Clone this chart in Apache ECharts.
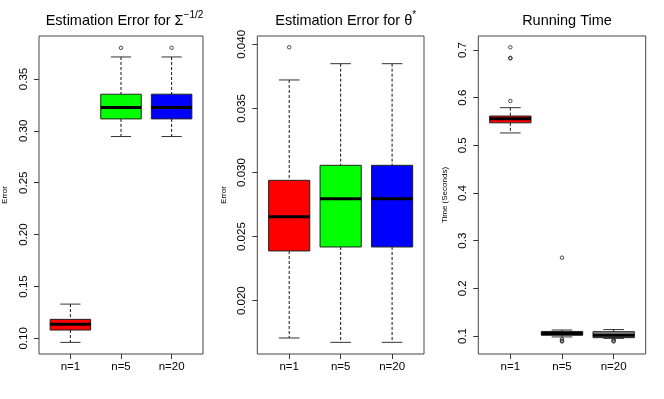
<!DOCTYPE html>
<html><head><meta charset="utf-8">
<script src="https://cdn.jsdelivr.net/npm/echarts@6/dist/echarts.min.js"></script>
<style>html,body{margin:0;padding:0;background:#fff}#c{width:664px;height:399px}</style>
</head><body><div id="c"></div>
<script>
// ---- data ----
const categories = ['n=1', 'n=5', 'n=20'];
// [lower whisker, Q1, median, Q3, upper whisker]
const sigmaStats = [
  [0.0961, 0.1080, 0.1135, 0.1183, 0.1330],
  [0.2945, 0.3115, 0.3224, 0.3353, 0.3712],
  [0.2945, 0.3115, 0.3224, 0.3353, 0.3712]
];
const sigmaOutliers = [[], [0.380], [0.380]];
const thetaStats = [
  [0.01709, 0.02388, 0.02655, 0.02939, 0.03722],
  [0.01675, 0.02419, 0.02796, 0.03056, 0.03849],
  [0.01675, 0.02419, 0.02796, 0.03056, 0.03849]
];
const thetaOutliers = [[0.03977], [], []];
const timeStats = [
  [0.526, 0.5472, 0.556, 0.5615, 0.579],
  [0.098, 0.1015, 0.105, 0.1095, 0.1125],
  [0.095, 0.0965, 0.1015, 0.109, 0.1135]
];
const timeOutliers = [
  [0.7057, 0.6835, 0.6825, 0.593],
  [0.2643, 0.093, 0.090, 0.0885],
  [0.093, 0.090, 0.0885]
];
const sigmaTicks = [0.10, 0.15, 0.20, 0.25, 0.30, 0.35];
const thetaTicks = [0.020, 0.025, 0.030, 0.035, 0.040];
const timeTicks = [0.1, 0.2, 0.3, 0.4, 0.5, 0.6, 0.7];
const panelTitles = ['{m|Estimation Error for Σ}{s|−1/2}', '{m|Estimation Error for θ}{s|*}', '{m|Running Time}'];
const yNames = ['Error', 'Error', 'Time (Seconds)'];

// ---- styles ----
const FONT = 'Liberation Sans, Arial, Helvetica, sans-serif';
const boxColors = [
  ['#ff0000', '#00ff00', '#0000ff'],
  ['#ff0000', '#00ff00', '#0000ff'],
  ['#ff0000', '#2a2a2a', '#8c8c8c']
];
const panels = [
  {left: 36, width: 167, stats: sigmaStats, out: sigmaOutliers, ticks: sigmaTicks, dec: 2, min: 0.0849, max: 0.3914},
  {left: 257.3, width: 166.7, stats: thetaStats, out: thetaOutliers, ticks: thetaTicks, dec: 3, min: 0.01584, max: 0.04065},
  {left: 478.3, width: 167.4, stats: timeStats, out: timeOutliers, ticks: timeTicks, dec: 1, min: 0.0622, max: 0.7294}
];

const chart = echarts.init(document.getElementById('c'), null, {renderer: 'canvas'});
const grid = [], xAxis = [], yAxis = [], series = [], title = [];
panels.forEach((p, i) => {
  grid.push({left: p.left, top: 36, width: p.width, height: 318, show: true, borderColor: '#444', borderWidth: 1, backgroundColor: 'transparent'});
  title.push({
    text: panelTitles[i], left: p.left + p.width / 2, top: 5, textAlign: 'center',
    textStyle: {fontWeight: 'normal', rich: {
      m: {fontSize: 14.5, fontFamily: FONT, fontWeight: 'normal', color: '#000', lineHeight: 18, verticalAlign: 'bottom'},
      s: {fontSize: 10, fontFamily: FONT, fontWeight: 'normal', color: '#000', verticalAlign: 'top', lineHeight: 18}
    }}
  });
  xAxis.push({
    type: 'value', gridIndex: i, min: 0.38, max: 3.62,
    splitLine: {show: false}, axisLine: {show: false},
    axisTick: {show: true, customValues: [1, 2, 3], length: 5, lineStyle: {color: '#333'}},
    axisLabel: {show: true, customValues: [1, 2, 3], margin: 7, fontSize: 11.5, fontFamily: FONT, color: '#000',
      formatter: v => categories[Math.round(v) - 1] || ''}
  });
  yAxis.push({
    type: 'value', gridIndex: i, min: p.min, max: p.max,
    name: yNames[i], nameLocation: 'middle', nameGap: 30, nameRotate: 90,
    nameTextStyle: {fontSize: 8, fontFamily: FONT, color: '#000'},
    splitLine: {show: false}, axisLine: {show: false},
    axisTick: {show: true, customValues: p.ticks, length: 5, lineStyle: {color: '#333'}},
    axisLabel: {show: true, customValues: p.ticks, rotate: 90, margin: 9, fontSize: 11.5, fontFamily: FONT, color: '#000',
      formatter: v => Number(v).toFixed(p.dec)}
  });
  const boxData = p.stats.map((s, k) => [k + 1].concat(s));
  series.push({
    type: 'custom', xAxisIndex: i, yAxisIndex: i,
    data: boxData,
    encode: {x: 0, y: [1, 2, 3, 4, 5]},
    renderItem: function (params, api) {
      const x = api.value(0);
      const lo = api.value(1), q1 = api.value(2), md = api.value(3), q3 = api.value(4), hi = api.value(5);
      const c = (a, b) => api.coord([a, b]);
      const bl = c(x - 0.4, q3), br = c(x + 0.4, q1);
      const cx = c(x, md)[0];
      const capL = c(x - 0.2, 0)[0], capR = c(x + 0.2, 0)[0];
      const yLo = c(x, lo)[1], yHi = c(x, hi)[1], yQ1 = c(x, q1)[1], yQ3 = c(x, q3)[1], yMd = c(x, md)[1];
      const col = boxColors[i][params.dataIndex];
      const dash = {stroke: '#111', lineWidth: 1, lineDash: [3, 2]};
      const solid = {stroke: '#333', lineWidth: 1};
      return {type: 'group', children: [
        {type: 'line', shape: {x1: cx, y1: yHi, x2: cx, y2: yQ3}, style: dash},
        {type: 'line', shape: {x1: cx, y1: yQ1, x2: cx, y2: yLo}, style: dash},
        {type: 'line', shape: {x1: capL, y1: yHi, x2: capR, y2: yHi}, style: solid},
        {type: 'line', shape: {x1: capL, y1: yLo, x2: capR, y2: yLo}, style: solid},
        {type: 'rect', shape: {x: bl[0], y: yQ3, width: br[0] - bl[0], height: Math.max(yQ1 - yQ3, 0.5)},
          style: {fill: col, stroke: '#222', lineWidth: 1}},
        {type: 'line', shape: {x1: bl[0], y1: yMd, x2: br[0], y2: yMd}, style: {stroke: '#000', lineWidth: 3}}
      ]};
    },
    silent: true, animation: false, z: 2
  });
  const outData = [];
  p.out.forEach((arr, k) => arr.forEach(v => outData.push([k + 1, v])));
  series.push({
    type: 'scatter', xAxisIndex: i, yAxisIndex: i, data: outData,
    symbol: 'circle', symbolSize: 3.5,
    itemStyle: {color: 'rgba(0,0,0,0)', borderColor: '#222', borderWidth: 1},
    silent: true, animation: false, z: 3
  });
});

chart.setOption({animation: false, backgroundColor: '#fff', title, grid, xAxis, yAxis, series});
</script>
</body></html>
